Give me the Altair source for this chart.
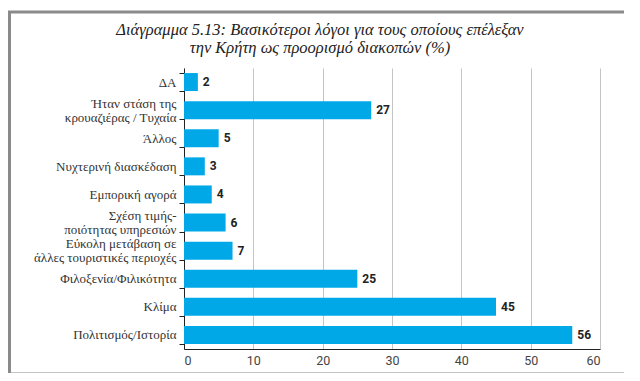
import altair as alt
import pandas as pd

categories = [
    "ΔΑ",
    "Ήταν στάση της|κρουαζιέρας / Τυχαία",
    "Άλλος",
    "Νυχτερινή διασκέδαση",
    "Εμπορική αγορά",
    "Σχέση τιμής-|ποιότητας υπηρεσιών",
    "Εύκολη μετάβαση σε|άλλες τουριστικές περιοχές",
    "Φιλοξενία/Φιλικότητα",
    "Κλίμα",
    "Πολιτισμός/Ιστορία",
]
values = [2, 27, 5, 3, 4, 6, 7, 25, 45, 56]
x_ticks = [0, 10, 20, 30, 40, 50, 60]
title_lines = [
    "Διάγραμμα 5.13: Βασικότεροι λόγοι για τους οποίους επέλεξαν",
    "την Κρήτη ως προορισμό διακοπών (%)",
]

df = pd.DataFrame({"cat": categories, "val": values})
tdf = pd.DataFrame({"line": title_lines, "idx": list(range(len(title_lines)))})

W, H = 416, 281

band_scale = alt.Scale(paddingInner=0.36, paddingOuter=0.18)

y_enc = alt.Y(
    "cat:N",
    sort=categories,
    title=None,
    scale=band_scale,
    axis=alt.Axis(
        labelExpr="split(datum.label, '|')",
        labelFont="Liberation Serif",
        labelFontSize=13,
        labelColor="#333333",
        labelLineHeight=14,
        labelPadding=3,
        labelOffset={"condition": {"test": "indexof(datum.label, '|') >= 0", "value": -7}, "value": 0},
        tickBand="extent",
        tickSize=5,
        tickColor="#222222",
        domainColor="#222222",
        labelLimit=200,
    ),
)

bars = alt.Chart(df).mark_bar(color="#00A8E8").encode(
    x=alt.X(
        "val:Q",
        title=None,
        scale=alt.Scale(domain=[0, 60], nice=False),
        axis=alt.Axis(
            values=x_ticks,
            grid=True,
            gridColor="#c4c4c4",
            ticks=False,
            labelFont="Roboto",
            labelFontSize=12.5,
            labelColor="#444444",
            labelPadding=5,
            domainColor="#222222",
        ),
    ),
    y=y_enc,
)

text = alt.Chart(df).mark_text(
    align="left", dx=5, font="Roboto", fontWeight="bold", fontSize=12, color="#222222"
).encode(
    x="val:Q",
    y=alt.Y("cat:N", sort=categories, scale=band_scale, axis=None),
    text="val:Q",
)

title = alt.Chart(tdf).mark_text(
    align="center", baseline="middle", font="Liberation Serif", fontStyle="italic",
    fontSize=16.5, color="#222222"
).transform_calculate(
    ypix="-38 + datum.idx * 18"
).encode(
    x=alt.value(136),
    y=alt.Y("ypix:Q", scale=None, axis=None),
    text="line:N",
)

border = alt.Chart(alt.Data(values=[{}])).mark_rect(
    fill="transparent", stroke="#8a8a8a", strokeWidth=3
).encode(
    x=alt.value(-174.5),
    x2=alt.value(449),
    y=alt.value(-56),
    y2=alt.value(306),
)

chart = (
    alt.layer(bars, text, title, border)
    .resolve_scale(y="independent")
    .properties(
        width=W,
        height=H,
        autosize=alt.AutoSizeParams(type="none"),
        padding={"left": 176, "top": 60, "right": 24, "bottom": 24},
    )
    .configure_view(strokeWidth=0)
)

chart.save("out.html", embed_options={"renderer": "svg", "actions": False})
